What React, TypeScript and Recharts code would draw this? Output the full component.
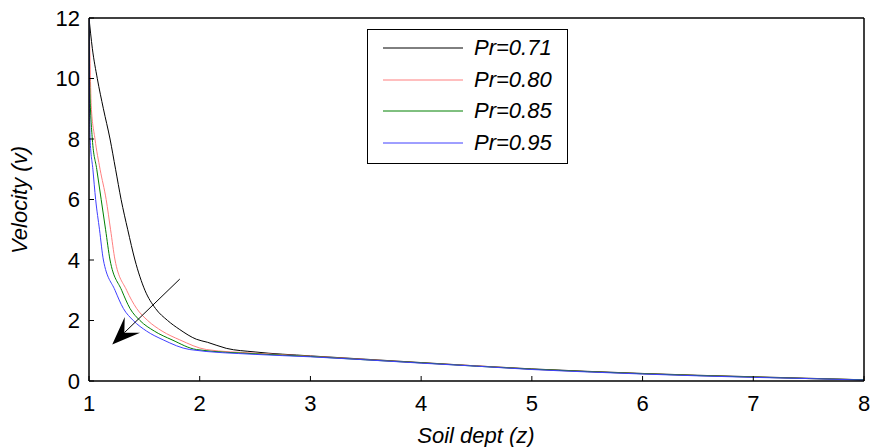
import { LineChart, Line, XAxis, YAxis, Legend, ReferenceLine } from "recharts";

// Velocity profiles v(z) for different Prandtl numbers
const pr071 = [
  { z: 1.0, v: 12 }, { z: 1.03, v: 11 }, { z: 1.075, v: 10 }, { z: 1.13, v: 9 },
  { z: 1.19, v: 8 }, { z: 1.24, v: 7 }, { z: 1.29, v: 6 }, { z: 1.35, v: 5 },
  { z: 1.415, v: 4 }, { z: 1.505, v: 3 }, { z: 1.6, v: 2.4 }, { z: 1.71, v: 2 },
  { z: 1.82, v: 1.7 }, { z: 1.97, v: 1.38 }, { z: 2.07, v: 1.28 }, { z: 2.24, v: 1.08 },
  { z: 2.5, v: 0.96 }, { z: 3.0, v: 0.83 }, { z: 3.5, v: 0.72 }, { z: 4.0, v: 0.61 },
  { z: 4.5, v: 0.5 }, { z: 5.0, v: 0.4 }, { z: 5.5, v: 0.32 }, { z: 6.0, v: 0.25 },
  { z: 6.5, v: 0.19 }, { z: 7.0, v: 0.14 }, { z: 7.5, v: 0.09 }, { z: 8.0, v: 0.04 },
];
const pr080 = [
  { z: 1.0, v: 12 }, { z: 1.01, v: 10.5 }, { z: 1.02, v: 9.1 }, { z: 1.054, v: 8 },
  { z: 1.1, v: 7 }, { z: 1.155, v: 6 }, { z: 1.195, v: 5 }, { z: 1.235, v: 4 },
  { z: 1.34, v: 3 }, { z: 1.43, v: 2.4 }, { z: 1.53, v: 2 }, { z: 1.66, v: 1.65 },
  { z: 1.82, v: 1.36 }, { z: 2.06, v: 1.04 }, { z: 2.5, v: 0.92 }, { z: 3.0, v: 0.82 },
  { z: 3.5, v: 0.71 }, { z: 4.0, v: 0.6 }, { z: 4.5, v: 0.5 }, { z: 5.0, v: 0.39 },
  { z: 5.5, v: 0.31 }, { z: 6.0, v: 0.24 }, { z: 6.5, v: 0.18 }, { z: 7.0, v: 0.13 },
  { z: 7.5, v: 0.08 }, { z: 8.0, v: 0.04 },
];
const pr085 = [
  { z: 1.0, v: 12 }, { z: 1.005, v: 10 }, { z: 1.03, v: 8 }, { z: 1.07, v: 7 },
  { z: 1.11, v: 6 }, { z: 1.15, v: 5 }, { z: 1.19, v: 4 }, { z: 1.295, v: 3 },
  { z: 1.37, v: 2.4 }, { z: 1.46, v: 2 }, { z: 1.59, v: 1.65 }, { z: 1.75, v: 1.36 },
  { z: 1.97, v: 1.04 }, { z: 2.5, v: 0.9 }, { z: 3.0, v: 0.81 }, { z: 3.5, v: 0.7 },
  { z: 4.0, v: 0.6 }, { z: 4.5, v: 0.49 }, { z: 5.0, v: 0.39 }, { z: 5.5, v: 0.31 },
  { z: 6.0, v: 0.24 }, { z: 6.5, v: 0.18 }, { z: 7.0, v: 0.13 }, { z: 7.5, v: 0.08 },
  { z: 8.0, v: 0.04 },
];
const pr095 = [
  { z: 1.0, v: 12 }, { z: 1.003, v: 10 }, { z: 1.01, v: 8 }, { z: 1.035, v: 7 },
  { z: 1.06, v: 6 }, { z: 1.095, v: 5 }, { z: 1.13, v: 4 }, { z: 1.235, v: 3 },
  { z: 1.31, v: 2.4 }, { z: 1.4, v: 2 }, { z: 1.52, v: 1.65 }, { z: 1.67, v: 1.36 },
  { z: 1.91, v: 1.04 }, { z: 2.5, v: 0.88 }, { z: 3.0, v: 0.8 }, { z: 3.5, v: 0.7 },
  { z: 4.0, v: 0.59 }, { z: 4.5, v: 0.49 }, { z: 5.0, v: 0.38 }, { z: 5.5, v: 0.3 },
  { z: 6.0, v: 0.23 }, { z: 6.5, v: 0.17 }, { z: 7.0, v: 0.12 }, { z: 7.5, v: 0.08 },
  { z: 8.0, v: 0.03 },
];

const xTicks = [1, 2, 3, 4, 5, 6, 7, 8];
const yTicks = [0, 2, 4, 6, 8, 10, 12];

// arrow shows increasing Pr, from tail to head in data units
const arrowPoints = [
  { x: 1.82, y: 3.37 },
  { x: 1.21, y: 1.21 },
];

const series = [
  { name: "Pr=0.71", data: pr071, color: "#000000" },
  { name: "Pr=0.80", data: pr080, color: "#ff7f7f" },
  { name: "Pr=0.85", data: pr085, color: "#008000" },
  { name: "Pr=0.95", data: pr095, color: "#3f3fff" },
];

const font = "'Liberation Sans', Arial, sans-serif";
const tickStyle = { fontSize: 22, fill: "#000", fontFamily: font };
const boxLine = { stroke: "#000", strokeWidth: 1.5 };

function Arrow(props: any) {
  const { x1, y1, x2, y2 } = props;
  const len = Math.hypot(x2 - x1, y2 - y1);
  const ux = (x2 - x1) / len;
  const uy = (y2 - y1) / len;
  const L = 28;
  const W = 11;
  const bx = x2 - ux * L;
  const by = y2 - uy * L;
  const nx = x2 - ux * L * 0.6;
  const ny = y2 - uy * L * 0.6;
  const pts = [
    [x2, y2],
    [bx - uy * W, by + ux * W],
    [nx, ny],
    [bx + uy * W, by - ux * W],
  ]
    .map((p) => p.join(","))
    .join(" ");
  return (
    <g>
      <line x1={x1} y1={y1} x2={nx} y2={ny} stroke="#000" strokeWidth={1} />
      <polygon points={pts} fill="#000" />
    </g>
  );
}

function LegendBox(props: any) {
  const payload = (props.payload || []).filter((p: any) => p.type !== "none");
  return (
    <div
      style={{
        width: 201,
        height: 135,
        border: "1px solid #000",
        background: "#fff",
        boxSizing: "border-box",
        fontFamily: font,
      }}
    >
      {payload.map((p: any, i: number) => (
        <div key={i} style={{ position: "relative", height: 31.7 }}>
          <svg width={100} height={32} style={{ position: "absolute", left: 0, top: 2 }}>
            <line x1={15} x2={95} y1={16} y2={16} stroke={p.color} strokeWidth={1} />
          </svg>
          <span
            style={{
              position: "absolute",
              left: 106,
              top: 5,
              fontSize: 22,
              fontStyle: "italic",
              lineHeight: "26px",
            }}
          >
            {p.value}
          </span>
        </div>
      ))}
    </div>
  );
}

export default function App() {
  return (
    <div style={{ position: "absolute", left: 0, top: 0, width: 871, height: 447, background: "#fff" }}>
      <LineChart width={871} height={447} margin={{ top: 17, right: 6, bottom: 0, left: 0 }}>
        <XAxis
          dataKey="z"
          type="number"
          domain={[1, 8]}
          ticks={xTicks}
          allowDataOverflow
          height={66}
          tickSize={-5}
          tickMargin={19}
          tick={tickStyle}
          axisLine={boxLine}
          tickLine={{ stroke: "#000" }}
          label={() => (
            <text
              x={476}
              y={443}
              textAnchor="middle"
              fontSize={22}
              fontStyle="italic"
              fontFamily={font}
              fill="#000"
            >
              Soil dept (z)
            </text>
          )}
        />
        <XAxis
          xAxisId="top"
          dataKey="z"
          orientation="top"
          type="number"
          domain={[1, 8]}
          ticks={xTicks}
          allowDataOverflow
          height={1}
          tickSize={-5}
          tick={false}
          axisLine={boxLine}
          tickLine={{ stroke: "#000" }}
        />
        <YAxis
          type="number"
          domain={[0, 12]}
          ticks={yTicks}
          allowDataOverflow
          width={89}
          tickSize={-5}
          tickMargin={14}
          tick={tickStyle}
          axisLine={boxLine}
          tickLine={{ stroke: "#000" }}
          label={() => (
            <text
              x={27}
              y={200}
              transform="rotate(-90 27 200)"
              textAnchor="middle"
              fontSize={22}
              fontStyle="italic"
              fontFamily={font}
              fill="#000"
            >
              Velocity (v)
            </text>
          )}
        />
        <YAxis
          yAxisId="right"
          orientation="right"
          type="number"
          domain={[0, 12]}
          ticks={yTicks}
          allowDataOverflow
          width={1}
          tickSize={-5}
          tick={false}
          axisLine={boxLine}
          tickLine={{ stroke: "#000" }}
        />
        {/* invisible copy that binds the top and right box axes */}
        <Line
          data={pr071}
          dataKey="v"
          xAxisId="top"
          yAxisId="right"
          stroke="none"
          dot={false}
          legendType="none"
          isAnimationActive={false}
        />
        {series.map((s) => (
          <Line
            key={s.name}
            data={s.data}
            dataKey="v"
            name={s.name}
            type="monotone"
            stroke={s.color}
            strokeWidth={1}
            dot={false}
            isAnimationActive={false}
          />
        ))}
        <ReferenceLine segment={arrowPoints} shape={<Arrow />} ifOverflow="visible" />
        <Legend
          layout="vertical"
          align="center"
          verticalAlign="middle"
          content={<LegendBox />}
          wrapperStyle={{ left: 367, top: 29, width: 201 }}
        />
      </LineChart>
    </div>
  );
}
